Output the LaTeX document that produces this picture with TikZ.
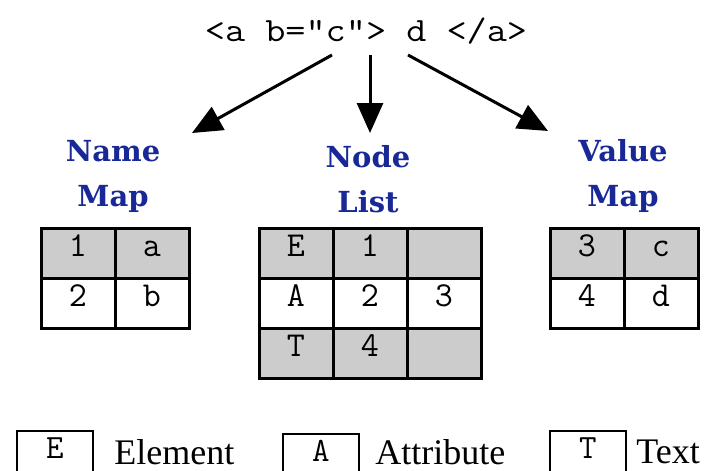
\documentclass[tikz,border=0pt]{standalone}
\usepackage{fontspec}
\newfontfamily\headfont{DejaVu Serif}
\newfontfamily\legendfont{Liberation Serif}
\usepackage{xcolor}
\usepackage{tikz}
\usetikzlibrary{arrows.meta,positioning}

\definecolor{mapblue}{RGB}{24,40,150}
\definecolor{cellgray}{RGB}{204,204,204}

\begin{document}
\begin{tikzpicture}[
  x=1pt, y=-1pt,                     % pixel-like grid, y grows downwards
  >={Triangle[length=30pt,width=26pt]},
  bigarrow/.style={->, line width=3pt},
  cell/.style={draw, line width=3pt, minimum width=74pt, minimum height=50pt,
    inner sep=0pt, outer sep=0pt, text height=0.61em, text depth=0pt,
    font=\fontsize{35}{35}\selectfont\ttfamily},
  shade/.style={fill=cellgray},
  head/.style={align=center, text=mapblue, inner sep=0pt,
    font=\headfont\bfseries\fontsize{29}{45}\selectfont},
  legbox/.style={draw, line width=2.5pt, minimum width=76pt, minimum height=48pt,
    inner sep=0pt, text height=0.61em, text depth=0pt,
    font=\fontsize{34}{34}\selectfont\ttfamily},
  legtext/.style={inner sep=0pt, font=\legendfont\fontsize{36}{36}\selectfont}
]
\useasboundingbox (0,0) rectangle (710,471);

% markup at the top (widened a bit, like a courier face)
\node[font=\fontsize{34}{34}\selectfont\ttfamily] (src) at (366,31)
  {\scalebox{1.15}[1]{<a b="c"> d </a>}};

% headings of the three tables
\node[head] (namehd)  at (113,176) {Name\\Map};
\node[head] (listhd)  at (368,179) {Node\\List};
\node[head] (valuehd) at (623,176) {Value\\Map};

% arrows from the markup
\coordinate (fromname)  at (332,55);
\coordinate (fromlist)  at (370,55);
\coordinate (fromvalue) at (408,55);
\coordinate (toname)  at (192,133);
\coordinate (tolist)  at (370,133);
\coordinate (tovalue) at (548,131);
\draw[bigarrow] (fromname)  -- (toname);
\draw[bigarrow] (fromlist)  -- (tolist);
\draw[bigarrow] (fromvalue) -- (tovalue);

% name map
\node[cell,shade] (nm11) at (78,253) {1};
\node[cell,shade,right=0pt of nm11] (nm12) {a};
\node[cell,below=0pt of nm11] (nm21) {2};
\node[cell,right=0pt of nm21] (nm22) {b};

% node list
\node[cell,shade] (nl11) at (296,253) {E};
\node[cell,shade,right=0pt of nl11] (nl12) {1};
\node[cell,shade,right=0pt of nl12] (nl13) {};
\node[cell,below=0pt of nl11] (nl21) {A};
\node[cell,right=0pt of nl21] (nl22) {2};
\node[cell,right=0pt of nl22] (nl23) {3};
\node[cell,shade,below=0pt of nl21] (nl31) {T};
\node[cell,shade,right=0pt of nl31] (nl32) {4};
\node[cell,shade,right=0pt of nl32] (nl33) {};

% value map
\node[cell,shade] (vm11) at (587,253) {3};
\node[cell,shade,right=0pt of vm11] (vm12) {c};
\node[cell,below=0pt of vm11] (vm21) {4};
\node[cell,right=0pt of vm21] (vm22) {d};

% legend, cut by the lower edge
\node[legbox] (legE) at (55,455) {E};
\node[legtext,right=20pt of legE,yshift=3pt] (txtE) {Element};
\node[legbox] (legA) at (321,458) {A};
\node[legtext,right=15pt of legA,yshift=6pt] (txtA) {Attribute};
\node[legbox] (legT) at (588,455) {T};
\node[legtext,right=9pt of legT,yshift=3pt] (txtT) {Text};
\end{tikzpicture}
\end{document}
